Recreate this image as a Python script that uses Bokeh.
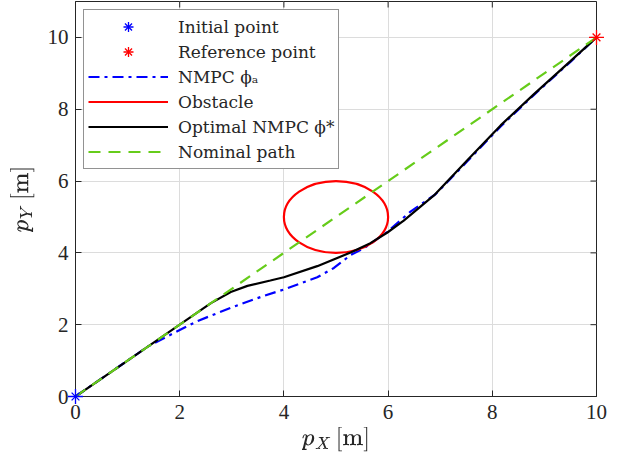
import math
from bokeh.plotting import figure
from bokeh.models import Range1d, FixedTicker, Legend, LegendItem
from bokeh.embed import file_html
from bokeh.resources import INLINE

# ---- data ----
x_ticks = [0, 2, 4, 6, 8, 10]
y_ticks = [0, 2, 4, 6, 8, 10]
x_min, x_max = 0, 10
y_min, y_max = 0, 11

nominal_x = [0, 10]
nominal_y = [0, 10]

nmpc_a_x = [0, 1.0, 1.4, 2.0, 2.34, 2.98, 3.61, 4.0, 4.32, 4.64, 4.96, 5.28, 5.53, 5.98, 6.43, 6.9, 7.52, 8.16, 8.8, 9.5, 10]
nmpc_a_y = [0, 1.0, 1.4, 1.85, 2.1, 2.47, 2.80, 2.98, 3.15, 3.32, 3.58, 3.94, 4.12, 4.58, 5.15, 5.62, 6.55, 7.52, 8.40, 9.32, 10]

opt_x = [0, 1.0, 2.0, 2.6, 2.98, 3.30, 3.74, 4.0, 4.64, 5.28, 5.66, 5.98, 6.30, 6.88, 7.52, 8.16, 8.80, 9.50, 10]
opt_y = [0, 1.0, 2.0, 2.6, 2.91, 3.08, 3.23, 3.32, 3.63, 4.01, 4.27, 4.56, 4.90, 5.60, 6.58, 7.55, 8.42, 9.34, 10]

obstacle_cx = [5]
obstacle_cy = [5]
obstacle_diam = [2]

initial_x = [0]
initial_y = [0]
reference_x = [10]
reference_y = [10]

AX = "#262626"
FONT = "Liberation Serif"

p = figure(width=608, height=454, x_range=Range1d(x_min, x_max), y_range=Range1d(y_min, y_max),
           output_backend="svg", toolbar_location=None,
           min_border_left=75, min_border_right=12, min_border_top=1, min_border_bottom=58)
p.background_fill_color = "white"
p.outline_line_color = AX
p.outline_line_width = 1

# axes
p.xaxis.ticker = FixedTicker(ticks=x_ticks)
p.yaxis.ticker = FixedTicker(ticks=y_ticks)
p.xgrid.ticker = FixedTicker(ticks=x_ticks)
p.ygrid.ticker = FixedTicker(ticks=y_ticks)
for g in (p.xgrid, p.ygrid):
    g.grid_line_color = "#dcdcdc"
    g.grid_line_width = 1

for ax in (p.xaxis[0], p.yaxis[0]):
    ax.axis_line_color = AX
    ax.major_tick_line_color = AX
    ax.major_tick_in = 6
    ax.major_tick_out = 0
    ax.minor_tick_line_color = None
    ax.major_label_text_font = FONT
    ax.major_label_text_font_size = "21px"
    ax.major_label_text_color = AX
    ax.axis_label_text_color = AX
    ax.axis_label_text_font_size = "21px"
    ax.axis_label_text_font_style = "normal"

p.xaxis.major_label_standoff = 8
p.yaxis.major_label_standoff = 7
p.xaxis.axis_label = r"$$p_X\,[\mathrm{m}]$$"
p.yaxis.axis_label = r"$$p_Y\,[\mathrm{m}]$$"
p.xaxis.axis_label_standoff = 5
p.yaxis.axis_label_standoff = 10

# inward ticks on the top and right edges (half of each dash is clipped by the frame)
p.scatter(x_ticks, [y_max] * len(x_ticks), marker="dash", angle=math.pi / 2, size=12,
          line_color=AX, line_width=1)
p.scatter([x_max] * len(y_ticks), y_ticks, marker="dash", size=12, line_color=AX, line_width=1)

# glyphs
r_nmpc = p.line(nmpc_a_x, nmpc_a_y, line_color="#0000ff", line_width=2.2, line_dash="11 5 3 5")
r_obs = p.ellipse(x=obstacle_cx, y=obstacle_cy, width=obstacle_diam, height=obstacle_diam,
                  fill_color=None, line_color="#ff0000", line_width=2.2)
r_obs_leg = p.line(x=[float("nan")], y=[float("nan")], line_color="#ff0000", line_width=2.2)
r_opt = p.line(opt_x, opt_y, line_color="black", line_width=2.2)
r_nom = p.line(nominal_x, nominal_y, line_color="#66cc1a", line_width=2.2, line_dash="12 8")

r_i1 = p.scatter(initial_x, initial_y, marker="cross", size=15, line_color="#0000ff", line_width=1.3, level="overlay")
r_i2 = p.scatter(initial_x, initial_y, marker="x", size=11, line_color="#0000ff", line_width=1.3, level="overlay")
r_r1 = p.scatter(reference_x, reference_y, marker="cross", size=15, line_color="#ff0000", line_width=1.3, level="overlay")
r_r2 = p.scatter(reference_x, reference_y, marker="x", size=11, line_color="#ff0000", line_width=1.3, level="overlay")

legend = Legend(items=[
    LegendItem(label="Initial point", renderers=[r_i1, r_i2]),
    LegendItem(label="Reference point", renderers=[r_r1, r_r2]),
    LegendItem(label="NMPC \u03d5\u2090", renderers=[r_nmpc]),
    LegendItem(label="Obstacle", renderers=[r_obs_leg]),
    LegendItem(label="Optimal NMPC \u03d5*", renderers=[r_opt]),
    LegendItem(label="Nominal path", renderers=[r_nom]),
], location="top_left",
    label_text_font="DejaVu Serif", label_text_font_size="17px")
legend.margin = 8
legend.padding = 4
legend.spacing = 0
legend.glyph_width = 80
legend.glyph_height = 25
legend.label_height = 25
legend.label_standoff = 10
legend.label_text_color = AX
legend.border_line_color = AX
legend.border_line_width = 1
legend.background_fill_color = "white"
legend.background_fill_alpha = 1
p.add_layout(legend, "center")

open("out.html", "w").write(file_html(p, INLINE))
